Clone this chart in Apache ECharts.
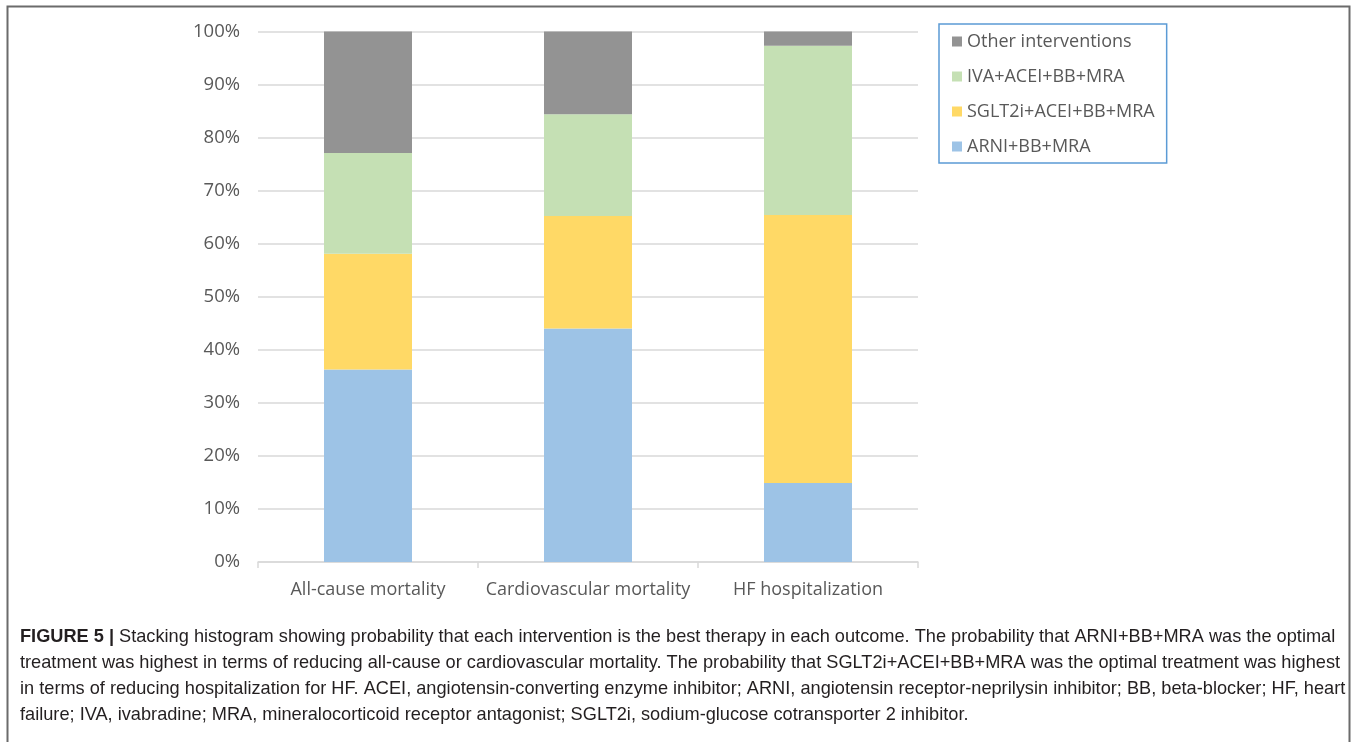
<!DOCTYPE html>
<html>
<head>
<meta charset="utf-8">
<script src="https://cdn.jsdelivr.net/npm/echarts@6/dist/echarts.min.js"></script>
<style>
html,body{margin:0;padding:0;background:#fff;}
#chart{width:1357px;height:742px;}
</style>
</head>
<body>
<div id="chart"></div>
<script>
const categories = ['All-cause mortality', 'Cardiovascular mortality', 'HF hospitalization'];
const seriesNames = ['ARNI+BB+MRA', 'SGLT2i+ACEI+BB+MRA', 'IVA+ACEI+BB+MRA', 'Other interventions'];
const arni = [36.3, 44.0, 14.9];
const sglt2i = [21.8, 21.2, 50.5];
const iva = [19.0, 19.2, 31.9];
const other = [22.9, 15.6, 2.7];
const yTicks = [0, 10, 20, 30, 40, 50, 60, 70, 80, 90, 100];
const captionLines = [
  'Stacking histogram showing probability that each intervention is the best therapy in each outcome. The probability that ARNI+BB+MRA was the optimal',
  'treatment was highest in terms of reducing all-cause or cardiovascular mortality. The probability that SGLT2i+ACEI+BB+MRA was the optimal treatment was highest',
  'in terms of reducing hospitalization for HF. ACEI, angiotensin-converting enzyme inhibitor; ARNI, angiotensin receptor-neprilysin inhibitor; BB, beta-blocker; HF, heart',
  'failure; IVA, ivabradine; MRA, mineralocorticoid receptor antagonist; SGLT2i, sodium-glucose cotransporter 2 inhibitor.'
];

const colors = ['#9dc3e6', '#ffd966', '#c5e0b4', '#939393'];
const values = [arni, sglt2i, iva, other];
const chartFont = "'Open Sans', 'Noto Sans', sans-serif";
const capFont = "'Liberation Sans Narrow', 'Liberation Sans', sans-serif";

const chart = echarts.init(document.getElementById('chart'), null, {renderer: 'canvas'});
const option = {
  animation: false,
  backgroundColor: '#fff',
  grid: {left: 258, right: 439, top: 31.5, bottom: 180, containLabel: false},
  xAxis: {
    type: 'category',
    data: categories,
    axisLine: {lineStyle: {color: '#d9d9d9', width: 1.5}},
    axisTick: {show: true, interval: 0, length: 6, lineStyle: {color: '#d9d9d9', width: 1.5}},
    axisLabel: {interval: 0, color: '#595959', fontSize: 18, fontFamily: chartFont, margin: 19}
  },
  yAxis: {
    type: 'value',
    min: yTicks[0],
    max: yTicks[yTicks.length - 1],
    interval: 10,
    axisLine: {show: false},
    axisTick: {show: false},
    splitLine: {lineStyle: {color: '#d9d9d9', width: 1.5}},
    axisLabel: {color: '#595959', fontSize: 18.5, fontFamily: chartFont, margin: 18, formatter: '{value}%'}
  },
  legend: {
    orient: 'vertical',
    left: 939,
    top: 24,
    data: seriesNames.slice().reverse(),
    itemWidth: 10,
    itemHeight: 10,
    itemGap: 15,
    padding: [7.5, 12, 6.5, 13],
    borderColor: '#5b9bd5',
    borderWidth: 1.5,
    icon: 'rect',
    textStyle: {color: '#595959', fontSize: 18, fontFamily: chartFont, lineHeight: 20}
  },
  title: {
    left: 20,
    top: 624,
    padding: 0,
    text: '{b|FIGURE 5 |} ' + captionLines.join('\n'),
    textStyle: {
      fontFamily: capFont,
      fontSize: 18.2,
      fontWeight: 'normal',
      color: '#231f20',
      lineHeight: 26,
      rich: {
        b: {fontFamily: capFont, fontSize: 18.2, fontWeight: 'bold', color: '#231f20', lineHeight: 26}
      }
    }
  },
  graphic: [{
    type: 'rect',
    shape: {x: 7.5, y: 6.5, width: 1342, height: 760},
    style: {fill: 'none', stroke: '#6b6b6b', lineWidth: 2},
    silent: true
  }],
  series: seriesNames.map((name, i) => ({
    name: name,
    type: 'bar',
    stack: 'total',
    barWidth: 88,
    data: values[i],
    itemStyle: {color: colors[i]}
  }))
};
chart.setOption(option);
</script>
</body>
</html>
